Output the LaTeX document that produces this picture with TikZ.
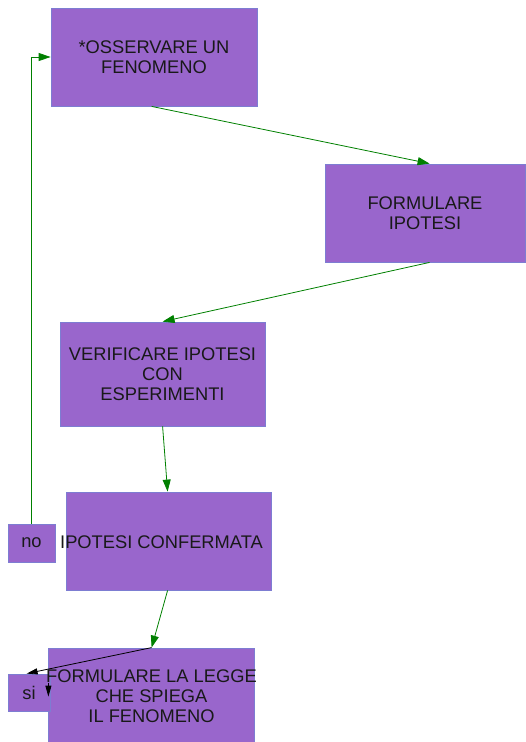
\documentclass[tikz,border=0pt]{standalone}
\usepackage{fontspec}
\setmainfont{Liberation Sans}
\usepackage{tikz}
\usetikzlibrary{arrows.meta}
\usetikzlibrary{positioning}
\definecolor{viola}{RGB}{153,102,204}
\definecolor{bordo}{RGB}{125,125,210}
\definecolor{verde}{RGB}{0,128,0}

\begin{document}
\begin{tikzpicture}[x=1pt, y=-1pt,
		box/.style={draw=bordo, fill=viola, line width=0.8pt, inner sep=0pt, align=center, text=black!90, font=\fontsize{18.3}{20}\selectfont},
		testo/.style={inner sep=0pt, align=center, text=black!90, font=\fontsize{18.3}{20}\selectfont},
		freccia/.style={draw=verde, line width=0.8pt, -{Triangle[length=12pt, width=8pt]}},
		nera/.style={draw=black, line width=0.8pt, -{Triangle[length=11pt, width=6pt]}}]
	\useasboundingbox (0,0) rectangle (526,742);
	
	%% BLOCCHI %%
	% Passi del metodo
	\node[box, minimum width=206pt, minimum height=98pt] (osserva) at (154,57) {*OSSERVARE UN\\FENOMENO};
	\node[box, minimum width=200pt, minimum height=98pt] (ipotesi) at (425,213) {FORMULARE\\IPOTESI};
	\node[box, minimum width=205pt, minimum height=104pt] (verifica) at (162.5,374) {VERIFICARE IPOTESI\\CON\\ESPERIMENTI};
	\node[box, minimum width=205pt, minimum height=98pt] (conferma) at (168.5,541) {};
	\node[box, minimum width=206pt, minimum height=94pt] (legge) at (151,695) {};
	
	% Risposte
	\node[box, minimum width=47pt, minimum height=38pt] (no) at (31.5,543) {no};
	\node[box, minimum width=42pt, minimum height=37pt] (si) at (29,692.5) {si};
	
	% Testi che escono dai blocchi
	\node[testo] (testoconf) at (161.5,542) {IPOTESI CONFERMATA};
	\node[testo] (testolegge) at (151.5,696) {FORMULARE LA LEGGE\\CHE SPIEGA\\IL FENOMENO};
	
	%% FRECCE %%
	\draw[freccia] ([xshift=101pt]osserva.south west) -- ([xshift=105pt]ipotesi.north west);
	\draw[freccia] ([xshift=105pt]ipotesi.south west) -- ([xshift=103pt]verifica.north west);
	\draw[freccia] ([xshift=103pt]verifica.south west) -- ([xshift=102pt]conferma.north west);
	\draw[freccia] ([xshift=102pt]conferma.south west) -- ([xshift=104pt]legge.north west);
	
	% Ritorno dal no
	\draw[freccia] (no.north) |- (osserva.west);
	
	% Verso il si
	\draw[nera] ([xshift=104pt]legge.north west) -- ([xshift=19pt]si.north west);
	\draw[nera] ([xshift=-2pt,yshift=-9pt]si.north east) -- ([xshift=-2pt,yshift=-23pt]si.north east);
\end{tikzpicture}
\end{document}
